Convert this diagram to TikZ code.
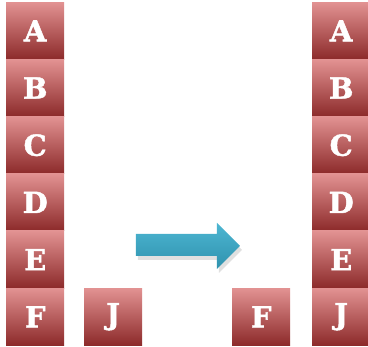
\documentclass[tikz,border=0pt]{standalone}
\usepackage{fontspec}
\newfontfamily\boxfont[BoldFont={DejaVu Serif Bold}, BoldFeatures={FakeBold=1.5}]{DejaVu Serif}
\definecolor{boxtop}{HTML}{E29292}
\definecolor{boxmid}{HTML}{C64E4E}
\definecolor{boxbot}{HTML}{8C2A2A}
\definecolor{arrtop}{HTML}{4DB6D2}
\definecolor{arrbot}{HTML}{2F92AE}
\tikzset{
  lbox/.style={anchor=north west, minimum width=58pt, minimum height=57.2pt, inner sep=0pt,
    top color=boxtop, middle color=boxmid, bottom color=boxbot, text=white,
    font=\boxfont\bfseries\fontsize{29}{29}\selectfont},
}
\begin{document}
\begin{tikzpicture}[x=1pt,y=-1pt]
\useasboundingbox (0,0) rectangle (368,347);
% left column
\node[lbox] (a1) at (6,2) {A};
\node[lbox] (b1) at (6,59.2) {B};
\node[lbox] (c1) at (6,116.4) {C};
\node[lbox] (d1) at (6,173.6) {D};
\node[lbox] (e1) at (6,230.8) {E};
\node[lbox] (f1) at (6,288) {F};
% J left
\node[lbox] (j1) at (84,288) {J};
% F right
\node[lbox] (f2) at (232,288) {F};
% right column
\node[lbox] (a2) at (312,2) {A};
\node[lbox] (b2) at (312,59.2) {B};
\node[lbox] (c2) at (312,116.4) {C};
\node[lbox] (d2) at (312,173.6) {D};
\node[lbox] (e2) at (312,230.8) {E};
\node[lbox] (j2) at (312,288) {J};
% arrow shadow
\fill[black,opacity=0.12] (138,238) -- (219,238) -- (219,227) -- (242,250) -- (219,273) -- (219,260) -- (138,260) -- cycle;
% arrow
\shade[top color=arrtop, bottom color=arrbot] (136,234) -- (217,234) -- (217,223) -- (240,246) -- (217,269) -- (217,256) -- (136,256) -- cycle;
\end{tikzpicture}
\end{document}
